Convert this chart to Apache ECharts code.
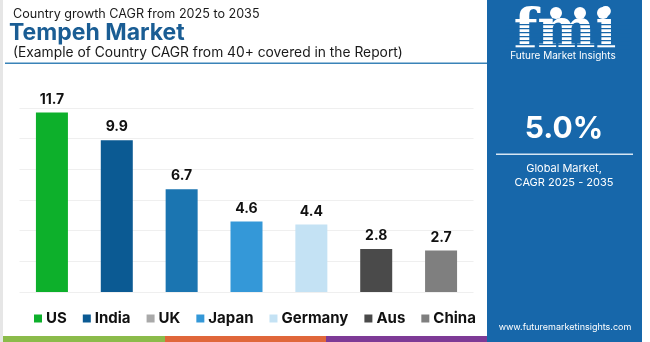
<!DOCTYPE html>
<html>
<head>
<meta charset="utf-8">
<script src="https://cdn.jsdelivr.net/npm/echarts@6/dist/echarts.min.js"></script>
<style>
  html, body { margin: 0; padding: 0; background: #ffffff; }
  #chart { width: 650px; height: 342px; }
</style>
</head>
<body>
<div id="chart"></div>
<script>
// Country CAGR values, 2025-2035
const countries = ['US', 'India', 'UK', 'Japan', 'Germany', 'Aus', 'China'];
const cagr = [11.7, 9.9, 6.7, 4.6, 4.4, 2.8, 2.7];
const barColors = ['#0db02b', '#0b5a93', '#1b75b1', '#3498d8', '#c4e2f4', '#4a4a4a', '#7f7f7f'];
const legendColors = ['#0db02b', '#0b5a93', '#a9a9a9', '#3498d8', '#c4e2f4', '#4a4a4a', '#7f7f7f'];
const yTicks = [0, 2, 4, 6, 8, 10, 12];

const FONT = 'Inter, "Noto Sans", sans-serif';
const PANEL = '#1767aa';

const chart = echarts.init(document.getElementById('chart'), null, { renderer: 'canvas' });

// one series per country so each gets its own legend entry
const series = countries.map((name, i) => ({
  name: name,
  type: 'bar',
  stack: 'all',
  barWidth: 32,
  itemStyle: { color: barColors[i] },
  label: {
    show: true,
    position: 'top',
    distance: 6,
    color: '#111',
    fontFamily: FONT,
    fontWeight: 'bold',
    fontSize: 14
  },
  data: countries.map((c, j) => (j === i ? cagr[i] : null))
}));

// horizontal stripes cut through the logo letters
const stripes = [];
for (let y = 24; y < 52; y += 4) {
  stripes.push({ type: 'rect', shape: { x: 505, y: y, width: 125, height: 1.3 }, style: { fill: PANEL }, silent: true, z: 10 });
}

const option = {
  backgroundColor: '#ffffff',
  animation: false,
  grid: { left: 19.5, right: 176.5, top: 108, bottom: 50, containLabel: false },
  xAxis: {
    type: 'category',
    data: countries,
    axisLine: { show: false },
    axisTick: { show: false },
    axisLabel: { show: false }
  },
  yAxis: {
    type: 'value',
    min: yTicks[0],
    max: yTicks[yTicks.length - 1],
    interval: 2,
    axisLine: { show: false },
    axisTick: { show: false },
    axisLabel: { show: false },
    splitLine: { lineStyle: { color: '#efefef', width: 1 } }
  },
  legend: {
    left: 29,
    top: 306,
    itemWidth: 8,
    itemHeight: 8,
    itemGap: 16,
    icon: 'rect',
    textStyle: { fontFamily: FONT, fontWeight: 'bold', fontSize: 15, color: '#111', padding: [0, 0, 0, -1] },
    data: countries.map((name, i) => ({ name: name, itemStyle: { color: legendColors[i] } }))
  },
  series: series,
  graphic: [
    // left frame edge
    { type: 'rect', shape: { x: 0, y: 0, width: 3, height: 342 }, style: { fill: '#e6e6e6' }, silent: true },
    // headings
    { type: 'text', left: 13, top: 8, style: { text: 'Country growth CAGR from 2025 to 2035', fontFamily: FONT, fontSize: 12.6, fill: '#1a1a1a' } },
    { type: 'text', left: 9, top: 22, style: { text: 'Tempeh Market', fontFamily: FONT, fontSize: 23, fontWeight: 'bold', fill: '#1a5d94' } },
    { type: 'text', left: 13, top: 46, style: { text: '(Example of Country CAGR from 40+ covered in the Report)', fontFamily: FONT, fontSize: 13.8, fill: '#1a1a1a' } },
    { type: 'rect', shape: { x: 5, y: 62.5, width: 482, height: 1.5 }, style: { fill: '#3a83b8' }, silent: true },
    // bottom colour strip
    { type: 'rect', shape: { x: 3, y: 336, width: 162, height: 6 }, style: { fill: '#8bbb4a' }, silent: true },
    { type: 'rect', shape: { x: 165, y: 336, width: 161, height: 6 }, style: { fill: '#e0673a' }, silent: true },
    { type: 'rect', shape: { x: 326, y: 336, width: 162, height: 6 }, style: { fill: '#7e3a96' }, silent: true },
    // side panel
    { type: 'rect', shape: { x: 487, y: 0, width: 155, height: 342 }, style: { fill: PANEL }, silent: true },
    { type: 'text', x: 565, y: 5, z: 5, style: { text: 'fmi', align: 'center', fontFamily: '"DejaVu Serif", serif', fontSize: 55, fontWeight: 'bold', fill: '#ffffff' } },
    { type: 'circle', shape: { cx: 556, cy: 13, r: 6 }, style: { fill: '#ffffff' } },
    { type: 'circle', shape: { cx: 580, cy: 13, r: 6 }, style: { fill: '#ffffff' } },
    { type: 'circle', shape: { cx: 603, cy: 13, r: 6 }, style: { fill: '#ffffff' } },
    ...stripes,
    { type: 'text', x: 563, y: 51, style: { text: 'Future Market Insights', align: 'center', fontFamily: FONT, fontSize: 10, fill: '#ffffff' } },
    { type: 'text', x: 564, y: 114, style: { text: '5.0%', align: 'center', fontFamily: FONT, fontSize: 30, fontWeight: 'bold', fill: '#ffffff' } },
    { type: 'rect', shape: { x: 496, y: 153.5, width: 137, height: 1.5 }, style: { fill: '#d7e6f3' }, silent: true },
    { type: 'text', x: 564, y: 163, style: { text: 'Global Market,', align: 'center', fontFamily: FONT, fontSize: 11, fill: '#ffffff' } },
    { type: 'text', x: 564, y: 177, style: { text: 'CAGR 2025 - 2035', align: 'center', fontFamily: FONT, fontSize: 11, fill: '#ffffff' } },
    { type: 'text', x: 565, y: 323, style: { text: 'www.futuremarketinsights.com', align: 'center', fontFamily: FONT, fontSize: 9, fill: '#ffffff' } }
  ]
};

chart.setOption(option);
</script>
</body>
</html>
